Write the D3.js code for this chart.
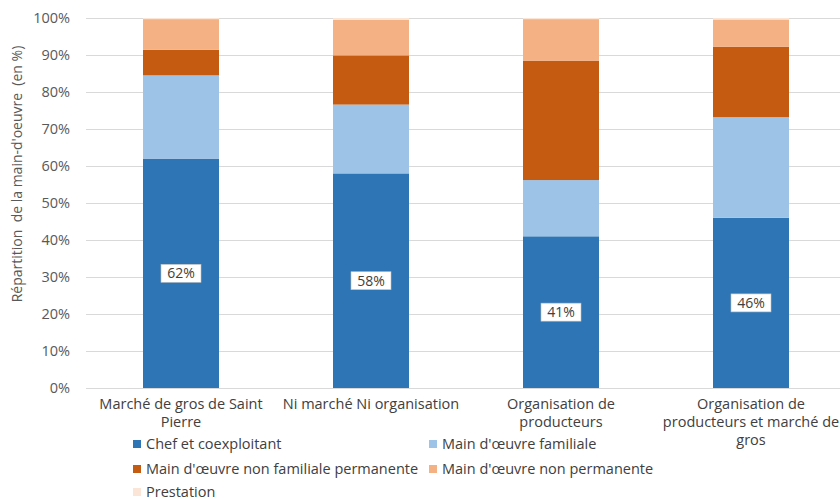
<!DOCTYPE html>
<html>
<head>
<meta charset="utf-8">
<script src="https://cdn.jsdelivr.net/npm/d3@7/dist/d3.min.js"></script>
<style>
  html, body { margin: 0; padding: 0; background: #fff; }
  svg { display: block; font-family: "Open Sans", Lato, sans-serif; }
</style>
</head>
<body>
<svg id="chart" width="840" height="500"></svg>
<script>
// Catégories (circuits de commercialisation)
const categories = [
  ["Marché de gros de Saint", "Pierre"],
  ["Ni marché Ni organisation"],
  ["Organisation de", "producteurs"],
  ["Organisation de", "producteurs et marché de", "gros"]
];

// Répartition de la main-d'œuvre (%) par type
const seriesNames = [
  "Chef et coexploitant",
  "Main d'œuvre familiale",
  "Main d'œuvre non familiale permanente",
  "Main d'œuvre non permanente",
  "Prestation"
];
const chefCoexploitant = [62, 58, 41, 46];
const familiale        = [22.5, 18.6, 15.2, 27.2];
const nonFamPermanente = [6.9, 13.3, 32.2, 19.0];
const nonPermanente    = [8.3, 9.6, 11.3, 7.4];
const prestation       = [0.3, 0.5, 0.3, 0.4];

const yTicks = [0, 0.1, 0.2, 0.3, 0.4, 0.5, 0.6, 0.7, 0.8, 0.9, 1.0];

const colors = ["#2E75B6", "#9DC3E6", "#C55A11", "#F4B183", "#FBE5D6"];
const seriesValues = [chefCoexploitant, familiale, nonFamPermanente, nonPermanente, prestation];

const rows = categories.map((c, i) => {
  const r = { key: i };
  seriesNames.forEach((s, j) => { r[s] = seriesValues[j][i] / 100; });
  return r;
});

const svg = d3.select("#chart");
const margin = { left: 86, top: 18, bottom: 388 };
const bandStep = 190;
const fontSize = "14.5px";

const x = d3.scaleBand()
  .domain(d3.range(categories.length))
  .range([margin.left, margin.left + bandStep * categories.length])
  .paddingInner(0.6)
  .paddingOuter(0.3);

const y = d3.scaleLinear().domain([0, 1]).range([margin.bottom, margin.top]);

// Grille horizontale
svg.append("g")
  .selectAll("line")
  .data(yTicks)
  .join("line")
  .attr("x1", margin.left)
  .attr("x2", 840)
  .attr("y1", d => Math.round(y(d)) + 0.5)
  .attr("y2", d => Math.round(y(d)) + 0.5)
  .attr("stroke", "#d9d9d9")
  .attr("stroke-width", 1);

// Axe vertical
const yAxis = d3.axisLeft(y).tickValues(yTicks).tickFormat(d3.format(".0%")).tickSize(0).tickPadding(16);
const gy = svg.append("g").attr("transform", `translate(${margin.left},0)`).call(yAxis);
gy.select(".domain").remove();
gy.selectAll("text").attr("fill", "#595959").style("font-size", fontSize).style("font-family", "'Open Sans', sans-serif");

// Titre de l'axe vertical
svg.append("text")
  .attr("transform", `translate(22,174) rotate(-90)`)
  .attr("text-anchor", "middle")
  .attr("fill", "#595959")
  .style("font-size", "14px")
  .style("white-space", "pre")
  .text("Répartition  de la main-d'oeuvre  (en %)");

// Barres empilées
const stacked = d3.stack().keys(seriesNames)(rows);
svg.append("g")
  .selectAll("g")
  .data(stacked)
  .join("g")
  .attr("fill", (d, i) => colors[i])
  .selectAll("rect")
  .data(d => d)
  .join("rect")
  .attr("x", d => x(d.data.key))
  .attr("width", x.bandwidth())
  .attr("y", d => y(d[1]))
  .attr("height", d => y(d[0]) - y(d[1]));

// Étiquettes de valeur (chef et coexploitant)
const lbl = svg.append("g")
  .selectAll("g")
  .data(stacked[0])
  .join("g")
  .attr("transform", d => `translate(${x(d.data.key) + x.bandwidth() / 2},${(y(d[0]) + y(d[1])) / 2})`);
lbl.append("rect")
  .attr("x", -20).attr("y", -9).attr("width", 40).attr("height", 18)
  .attr("fill", "#fff").attr("stroke", "#bfbfbf").attr("stroke-width", 0.6);
lbl.append("text")
  .attr("text-anchor", "middle")
  .attr("dy", "0.36em")
  .attr("fill", "#404040")
  .style("font-size", "14px")
  .text(d => d3.format(".0%")(d[1] - d[0]));

// Étiquettes des catégories
const xl = svg.append("g")
  .selectAll("text")
  .data(categories)
  .join("text")
  .attr("x", (d, i) => x(i) + x.bandwidth() / 2)
  .attr("y", 409)
  .attr("text-anchor", "middle")
  .attr("fill", "#404040")
  .style("font-size", fontSize);
xl.selectAll("tspan")
  .data(d => d)
  .join("tspan")
  .attr("x", function () { return this.parentNode.getAttribute("x"); })
  .attr("dy", (d, i) => i === 0 ? 0 : 18)
  .text(d => d);

// Légende
const legendPos = [[133, 444], [429, 444], [133, 469], [429, 469], [133, 492]];
const lg = svg.append("g")
  .selectAll("g")
  .data(seriesNames)
  .join("g")
  .attr("transform", (d, i) => `translate(${legendPos[i][0]},${legendPos[i][1]})`);
lg.append("rect")
  .attr("x", 0).attr("y", -4).attr("width", 8).attr("height", 8)
  .attr("fill", (d, i) => colors[i]);
lg.append("text")
  .attr("x", 13)
  .attr("dy", "0.36em")
  .attr("fill", "#404040")
  .style("font-size", fontSize)
  .text(d => d);
</script>
</body>
</html>
